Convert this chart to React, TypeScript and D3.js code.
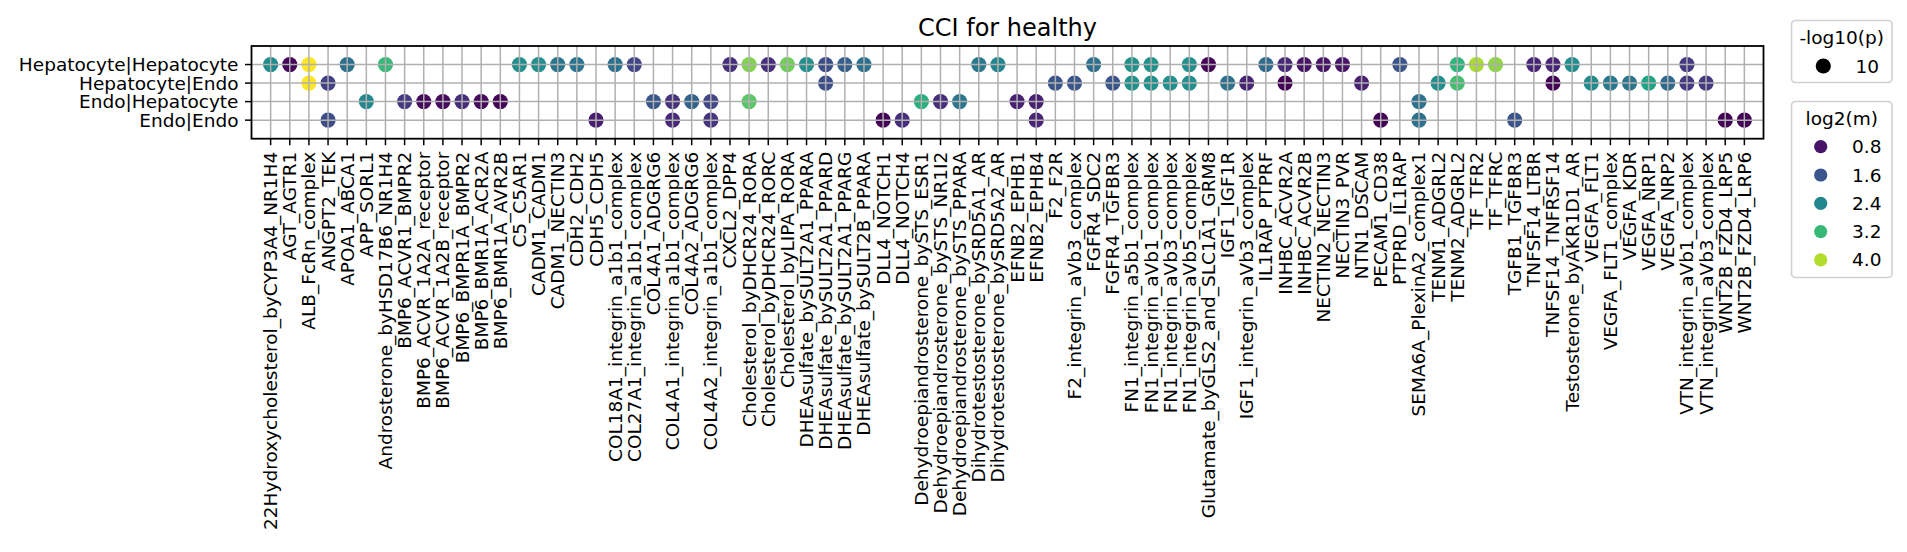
import React from "react";
import * as d3 from "d3";

const xLabels: string[] = [
  "22Hydroxycholesterol_byCYP3A4_NR1H4", "AGT_AGTR1", "ALB_FcRn_complex", "ANGPT2_TEK", "APOA1_ABCA1",
  "APP_SORL1", "Androsterone_byHSD17B6_NR1H4", "BMP6_ACVR1_BMPR2", "BMP6_ACVR_1A2A_receptor",
  "BMP6_ACVR_1A2B_receptor", "BMP6_BMPR1A_BMPR2", "BMP6_BMR1A_ACR2A", "BMP6_BMR1A_AVR2B", "C5_C5AR1",
  "CADM1_CADM1", "CADM1_NECTIN3", "CDH2_CDH2", "CDH5_CDH5", "COL18A1_integrin_a1b1_complex",
  "COL27A1_integrin_a1b1_complex", "COL4A1_ADGRG6", "COL4A1_integrin_a1b1_complex", "COL4A2_ADGRG6",
  "COL4A2_integrin_a1b1_complex", "CXCL2_DPP4", "Cholesterol_byDHCR24_RORA", "Cholesterol_byDHCR24_RORC",
  "Cholesterol_byLIPA_RORA", "DHEAsulfate_bySULT2A1_PPARA", "DHEAsulfate_bySULT2A1_PPARD",
  "DHEAsulfate_bySULT2A1_PPARG", "DHEAsulfate_bySULT2B_PPARA", "DLL4_NOTCH1", "DLL4_NOTCH4",
  "Dehydroepiandrosterone_bySTS_ESR1", "Dehydroepiandrosterone_bySTS_NR1I2", "Dehydroepiandrosterone_bySTS_PPARA",
  "Dihydrotestosterone_bySRD5A1_AR", "Dihydrotestosterone_bySRD5A2_AR", "EFNB2_EPHB1", "EFNB2_EPHB4",
  "F2_F2R", "F2_integrin_aVb3_complex", "FGFR4_SDC2", "FGFR4_TGFBR3", "FN1_integrin_a5b1_complex",
  "FN1_integrin_aVb1_complex", "FN1_integrin_aVb3_complex", "FN1_integrin_aVb5_complex",
  "Glutamate_byGLS2_and_SLC1A1_GRM8", "IGF1_IGF1R", "IGF1_integrin_aVb3_complex", "IL1RAP_PTPRF",
  "INHBC_ACVR2A", "INHBC_ACVR2B", "NECTIN2_NECTIN3", "NECTIN3_PVR", "NTN1_DSCAM", "PECAM1_CD38",
  "PTPRD_IL1RAP", "SEMA6A_PlexinA2_complex1", "TENM1_ADGRL2", "TENM2_ADGRL2", "TF_TFR2", "TF_TFRC",
  "TGFB1_TGFBR3", "TNFSF14_LTBR", "TNFSF14_TNFRSF14", "Testosterone_byAKR1D1_AR", "VEGFA_FLT1",
  "VEGFA_FLT1_complex", "VEGFA_KDR", "VEGFA_NRP1", "VEGFA_NRP2", "VTN_integrin_aVb1_complex",
  "VTN_integrin_aVb3_complex", "WNT2B_FZD4_LRP5", "WNT2B_FZD4_LRP6",
];

const yLabels: string[] = ["Hepatocyte|Hepatocyte", "Hepatocyte|Endo", "Endo|Hepatocyte", "Endo|Endo"];

// [interaction, log2(m)] per sender|receiver pair; -log10(p) = 10 for all
const hepHep: [string, number][] = [
  ["22Hydroxycholesterol_byCYP3A4_NR1H4", 2.45], ["AGT_AGTR1", 0.65], ["ALB_FcRn_complex", 4.45],
  ["APOA1_ABCA1", 2.0], ["Androsterone_byHSD17B6_NR1H4", 3.2], ["C5_C5AR1", 2.5], ["CADM1_CADM1", 2.5],
  ["CADM1_NECTIN3", 2.1], ["CDH2_CDH2", 2.1], ["COL18A1_integrin_a1b1_complex", 2.05],
  ["COL27A1_integrin_a1b1_complex", 1.4], ["CXCL2_DPP4", 1.1], ["Cholesterol_byDHCR24_RORA", 3.7],
  ["Cholesterol_byDHCR24_RORC", 1.1], ["Cholesterol_byLIPA_RORA", 3.6], ["DHEAsulfate_bySULT2A1_PPARA", 2.5],
  ["DHEAsulfate_bySULT2A1_PPARD", 1.5], ["DHEAsulfate_bySULT2A1_PPARG", 1.75], ["DHEAsulfate_bySULT2B_PPARA", 2.05],
  ["Dihydrotestosterone_bySRD5A1_AR", 2.15], ["Dihydrotestosterone_bySRD5A2_AR", 2.35], ["FGFR4_SDC2", 2.0],
  ["FN1_integrin_a5b1_complex", 2.55], ["FN1_integrin_aVb1_complex", 2.55], ["FN1_integrin_aVb5_complex", 2.5],
  ["Glutamate_byGLS2_and_SLC1A1_GRM8", 0.62], ["IL1RAP_PTPRF", 1.95], ["INHBC_ACVR2A", 1.05],
  ["INHBC_ACVR2B", 0.8], ["NECTIN2_NECTIN3", 0.8], ["NECTIN3_PVR", 0.8], ["PTPRD_IL1RAP", 1.6],
  ["TENM2_ADGRL2", 3.1], ["TF_TFR2", 3.95], ["TF_TFRC", 3.8], ["TNFSF14_LTBR", 1.0], ["TNFSF14_TNFRSF14", 1.0],
  ["Testosterone_byAKR1D1_AR", 2.5], ["VTN_integrin_aVb1_complex", 1.25],
];

const hepEndo: [string, number][] = [
  ["ALB_FcRn_complex", 4.45], ["ANGPT2_TEK", 1.35], ["DHEAsulfate_bySULT2A1_PPARD", 1.5], ["F2_F2R", 1.6],
  ["F2_integrin_aVb3_complex", 1.6], ["FGFR4_TGFBR3", 1.6], ["FN1_integrin_a5b1_complex", 2.55],
  ["FN1_integrin_aVb1_complex", 2.55], ["FN1_integrin_aVb3_complex", 2.5], ["FN1_integrin_aVb5_complex", 2.5],
  ["IGF1_IGF1R", 2.05], ["IGF1_integrin_aVb3_complex", 1.0], ["INHBC_ACVR2A", 0.62], ["NTN1_DSCAM", 0.95],
  ["TENM1_ADGRL2", 2.5], ["TENM2_ADGRL2", 3.3], ["TNFSF14_TNFRSF14", 0.62], ["VEGFA_FLT1", 2.45],
  ["VEGFA_FLT1_complex", 2.15], ["VEGFA_KDR", 2.1], ["VEGFA_NRP1", 2.85], ["VEGFA_NRP2", 1.9],
  ["VTN_integrin_aVb1_complex", 1.25], ["VTN_integrin_aVb3_complex", 1.25],
];

const endoHep: [string, number][] = [
  ["APP_SORL1", 2.4], ["BMP6_ACVR1_BMPR2", 1.25], ["BMP6_ACVR_1A2A_receptor", 0.7],
  ["BMP6_ACVR_1A2B_receptor", 0.7], ["BMP6_BMPR1A_BMPR2", 1.1], ["BMP6_BMR1A_ACR2A", 0.7],
  ["BMP6_BMR1A_AVR2B", 0.62], ["COL4A1_ADGRG6", 1.65], ["COL4A1_integrin_a1b1_complex", 1.15],
  ["COL4A2_ADGRG6", 1.8], ["COL4A2_integrin_a1b1_complex", 1.4], ["Cholesterol_byDHCR24_RORA", 3.45],
  ["Dehydroepiandrosterone_bySTS_ESR1", 3.05], ["Dehydroepiandrosterone_bySTS_NR1I2", 1.1],
  ["Dehydroepiandrosterone_bySTS_PPARA", 2.1], ["EFNB2_EPHB1", 0.95], ["EFNB2_EPHB4", 0.95],
  ["SEMA6A_PlexinA2_complex1", 2.05],
];

const endoEndo: [string, number][] = [
  ["ANGPT2_TEK", 1.5], ["CDH5_CDH5", 0.9], ["COL4A1_integrin_a1b1_complex", 1.05],
  ["COL4A2_integrin_a1b1_complex", 1.2], ["DLL4_NOTCH1", 0.62], ["DLL4_NOTCH4", 1.1], ["EFNB2_EPHB4", 1.0],
  ["PECAM1_CD38", 0.62], ["SEMA6A_PlexinA2_complex1", 2.05], ["TGFB1_TGFBR3", 1.6],
  ["WNT2B_FZD4_LRP5", 0.62], ["WNT2B_FZD4_LRP6", 0.62],
];

const rowData: [string, [string, number][]][] = [
  ["Hepatocyte|Hepatocyte", hepHep],
  ["Hepatocyte|Endo", hepEndo],
  ["Endo|Hepatocyte", endoHep],
  ["Endo|Endo", endoEndo],
];

const sizeLegendValues: number[] = [10];
const colorLegendValues: number[] = [0.8, 1.6, 2.4, 3.2, 4.0];
const colorDomain: [number, number] = [0.6, 4.45];

const FONT = "DejaVu Sans, sans-serif";

export default function App() {
  const W = 1907, H = 552;
  const left = 251.5, right = 1763.5, top = 46, bottom = 138.7;
  const x = d3.scalePoint<string>().domain(xLabels).range([left, right]).padding(1);
  const y = d3.scalePoint<string>().domain(yLabels).range([top, bottom]).padding(1);
  const color = d3.scaleSequential(d3.interpolateViridis).domain(colorDomain);
  const tickFont = 18.5;
  const tickLen = 6.5;
  const grid = "#b0b0b0";

  const points = rowData.flatMap(([row, arr]) =>
    arr.map(([lab, v]) => ({ row, lab, v }))
  );

  const lgX = 1791.5, lgW = 100.5;

  return (
    <svg width={W} height={H} style={{ position: "absolute", left: 0, top: 0, background: "#fff" }}
      fontFamily={FONT}>
      <rect x={0} y={0} width={W} height={H} fill="#fff" />
      {/* dots */}
      {points.map((p, i) => (
        <circle key={i} cx={x(p.lab)} cy={y(p.row)} r={7.6} fill={color(p.v)} />
      ))}
      {/* grid above dots */}
      {xLabels.map((l) => (
        <line key={"gx" + l} x1={x(l)} x2={x(l)} y1={top} y2={bottom} stroke={grid} strokeWidth={1.5} />
      ))}
      {yLabels.map((l) => (
        <line key={"gy" + l} x1={left} x2={right} y1={y(l)} y2={y(l)} stroke={grid} strokeWidth={1.5} />
      ))}
      {/* frame */}
      <rect x={left} y={top} width={right - left} height={bottom - top} fill="none" stroke="#000" strokeWidth={1.8} />
      {/* x ticks */}
      {xLabels.map((l) => (
        <g key={"xt" + l}>
          <line x1={x(l)} x2={x(l)} y1={bottom} y2={bottom + tickLen} stroke="#000" strokeWidth={1.5} />
          <text transform={`translate(${x(l)},${bottom + tickLen * 2}) rotate(-90)`} textAnchor="end"
            dominantBaseline="central" fontSize={tickFont} fill="#000">{l}</text>
        </g>
      ))}
      {/* y ticks */}
      {yLabels.map((l) => (
        <g key={"yt" + l}>
          <line x1={left - tickLen} x2={left} y1={y(l)} y2={y(l)} stroke="#000" strokeWidth={1.5} />
          <text x={left - tickLen * 2} y={y(l)} textAnchor="end" dominantBaseline="central"
            fontSize={tickFont} fill="#000">{l}</text>
        </g>
      ))}
      {/* title */}
      <text x={(left + right) / 2} y={36} textAnchor="middle" fontSize={24} fill="#000">CCI for healthy</text>

      {/* size legend */}
      <rect x={lgX} y={20.5} width={lgW} height={62} rx={4} fill="#fff" stroke="#d0d0d0" strokeWidth={1.6} />
      <text x={lgX + lgW / 2} y={43.5} textAnchor="middle" fontSize={tickFont} fill="#000">-log10(p)</text>
      {sizeLegendValues.map((v, i) => (
        <g key={"sl" + v}>
          <circle cx={1823.3} cy={66 + i * 28} r={7.6} fill="#000" />
          <text x={1879} y={66 + i * 28} textAnchor="end" dominantBaseline="central" fontSize={tickFont}>{v}</text>
        </g>
      ))}

      {/* color legend */}
      <rect x={lgX} y={101.5} width={lgW} height={176} rx={4} fill="#fff" stroke="#d0d0d0" strokeWidth={1.6} />
      <text x={lgX + lgW / 2} y={125} textAnchor="middle" fontSize={tickFont} fill="#000">log2(m)</text>
      {colorLegendValues.map((v, i) => (
        <g key={"cl" + v}>
          <circle cx={1820.7} cy={146.7 + i * 28.3} r={6.6} fill={color(v)} />
          <text x={1881.5} y={146.7 + i * 28.3} textAnchor="end" dominantBaseline="central" fontSize={tickFont}>
            {v.toFixed(1)}
          </text>
        </g>
      ))}
    </svg>
  );
}
